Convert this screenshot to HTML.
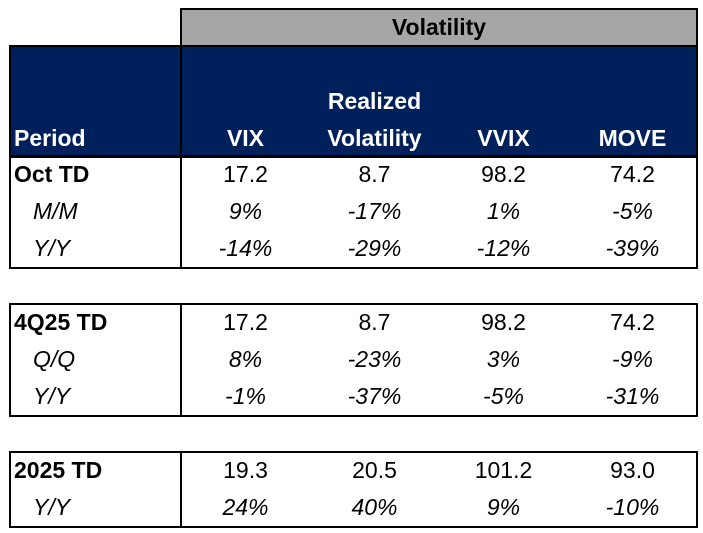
<!DOCTYPE html>
<html><head><meta charset="utf-8"><style>
body{margin:0;width:703px;height:533px;background:#fff;font-family:"Liberation Sans",sans-serif;position:relative;overflow:hidden}
.a{position:absolute;box-sizing:border-box}
.box{border:2px solid #000}
.t{position:absolute;font-size:23px;line-height:37px;height:37px;white-space:nowrap}
.c{width:129px;text-align:center}
.i{font-style:italic}
.b{font-weight:bold}
.w{color:#fff;font-weight:bold}
</style></head><body>
<div class="a box" style="left:180px;top:8px;width:518px;height:39px;background:#a6a6a6"></div>
<div class="t b" style="left:181px;top:9px;width:516px;text-align:center;font-size:23px">Volatility</div>
<div class="a box" style="left:9px;top:45px;width:689px;height:113px;background:#00205b"></div>
<div class="a" style="left:180px;top:45px;width:2px;height:113px;background:#000"></div>
<div class="t w" style="left:14px;top:120px">Period</div>
<div class="t w c" style="left:181px;top:120px">VIX</div>
<div class="t w c" style="left:310px;top:83px">Realized</div>
<div class="t w c" style="left:310px;top:120px">Volatility</div>
<div class="t w c" style="left:439px;top:120px">VVIX</div>
<div class="t w c" style="left:568px;top:120px">MOVE</div>
<div id="rows"></div>
<script>
const sections=[
 {top:156,rows:[["Oct TD","17.2","8.7","98.2","74.2"],["M/M","9%","-17%","1%","-5%"],["Y/Y","-14%","-29%","-12%","-39%"]]},
 {top:304,rows:[["4Q25 TD","17.2","8.7","98.2","74.2"],["Q/Q","8%","-23%","3%","-9%"],["Y/Y","-1%","-37%","-5%","-31%"]]},
 {top:452,rows:[["2025 TD","19.3","20.5","101.2","93.0"],["Y/Y","24%","40%","9%","-10%"]]}
];
const root=document.getElementById('rows');
sections.forEach((s,si)=>{
 const h=s.rows.length*37;
 const b=document.createElement('div');b.className='a box';
 
 
 b.style.cssText=`left:9px;top:${s.top-1}px;width:689px;height:${h+3}px`;root.appendChild(b);
 const d=document.createElement('div');d.className='a';
 d.style.cssText=`left:180px;top:${s.top-1}px;width:2px;height:${h+3}px;background:#000`;root.appendChild(d);
 s.rows.forEach((r,ri)=>{
  r.forEach((v,ci)=>{
   const e=document.createElement('div');
   
   
   e.textContent=v;
   const y=s.top+ri*37;
   if(ci===0){e.className='t '+(ri===0?'b':'i');e.style.left=(ri===0?14:33)+'px';}
   else{e.className='t c'+(ri===0?'':' i');e.style.left=(181+(ci-1)*129)+'px';}
   e.style.top=y+'px';
   root.appendChild(e);
  });
 });
});
</script>
</body></html>
